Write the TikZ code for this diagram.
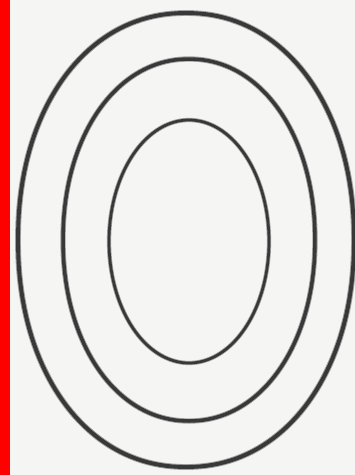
\documentclass[tikz,border=0pt]{standalone}
\usetikzlibrary{positioning}
\definecolor{paper}{HTML}{F5F5F4}
\definecolor{ink}{HTML}{383838}
\definecolor{haze}{HTML}{A0A0A0}
\definecolor{edge}{HTML}{FF0000}

\begin{document}
\begin{tikzpicture}[
  x=1pt, y=-1pt,
  ring/.style={draw=ink, line join=round},
  blur/.style={draw=haze, line join=round},
]
% frame
\fill[paper] (0,0) rectangle (355,475);
\useasboundingbox (0,0) rectangle (355,475);
\fill[edge] (0,0) rectangle (10,475);

% rings: centre x/y, half width/height, exponent, stroke, haze
\foreach \cx/\cy/\a/\b/\e/\w/\h in {186/240/168/227/2.12/3.9/5.8,
    189/240/126/181/2.08/3.5/5.3, 189/241.5/80/121.5/2.0/2.7/4.3}{
  \draw[blur, line width=\h pt] plot[domain=0:360, samples=181, variable=\t]
    ({\cx+\a*cos(\t)*pow(abs(cos(\t))+0.00001,2/\e-1)},
     {\cy+\b*sin(\t)*pow(abs(sin(\t))+0.00001,2/\e-1)}) -- cycle;
  \draw[ring, line width=\w pt] plot[domain=0:360, samples=181, variable=\t]
    ({\cx+\a*cos(\t)*pow(abs(cos(\t))+0.00001,2/\e-1)},
     {\cy+\b*sin(\t)*pow(abs(sin(\t))+0.00001,2/\e-1)}) -- cycle;
}

\end{tikzpicture}
\end{document}
